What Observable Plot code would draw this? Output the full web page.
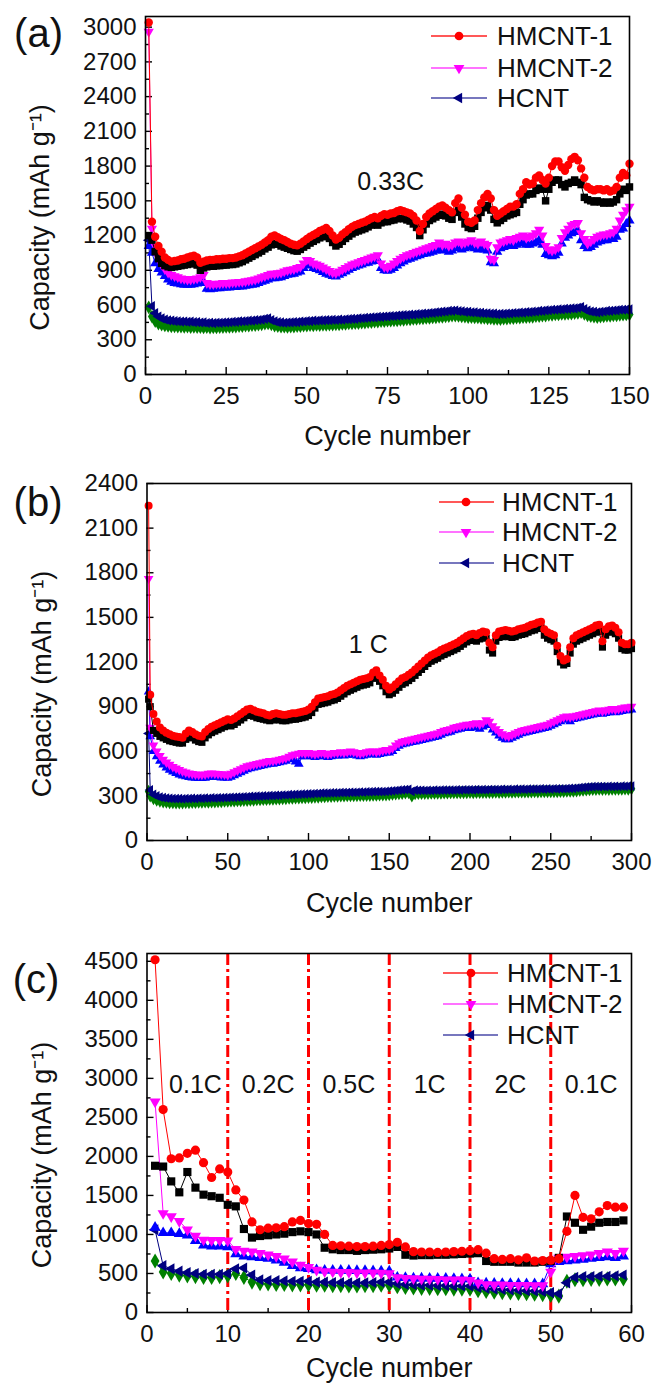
<!DOCTYPE html>
<html><head><meta charset="utf-8">
<script src="https://cdn.jsdelivr.net/npm/d3@7"></script>
<script src="https://cdn.jsdelivr.net/npm/@observablehq/plot@0.6"></script>
<style>
body{margin:0;background:#fff;}
#wrap{position:relative;width:654px;height:1385px;overflow:hidden;font-family:"Liberation Sans",Arial,sans-serif;}
#wrap svg{position:absolute;left:0;}
</style></head><body><div id="wrap"></div>
<script>
// ---------------- DATA ----------------
const seriesNames = ["HMCNT-1","HMCNT-2","HCNT"];
const yLabel = "Capacity (mAh g\u207B\u00B9)";
const xLabel = "Cycle number";

// Panel (a) 0.33C, cycles 1..150
const cyclesA = d3.range(1, 151);
const aRed = [3040,1320,1190,1110,1060,1010,990,975,980,985,
995,1000,1010,1020,1025,1010,965,975,985,990,
990,995,995,1000,1000,1005,1005,1010,1020,1030,
1045,1060,1075,1090,1105,1120,1140,1160,1190,1200,
1185,1170,1160,1145,1130,1120,1115,1130,1150,1170,
1190,1205,1220,1240,1250,1265,1240,1200,1165,1180,
1210,1230,1255,1275,1290,1300,1310,1320,1335,1350,
1360,1350,1370,1385,1380,1390,1395,1410,1420,1410,
1400,1390,1370,1330,1240,1300,1360,1390,1410,1430,
1450,1460,1440,1420,1400,1480,1520,1440,1380,1320,
1310,1330,1420,1480,1530,1560,1520,1420,1370,1390,
1410,1430,1450,1450,1470,1560,1600,1660,1640,1650,
1700,1720,1680,1650,1700,1800,1840,1840,1790,1760,
1810,1860,1880,1850,1780,1700,1620,1600,1590,1600,
1600,1590,1600,1580,1590,1620,1700,1740,1720,1820];
const aBlack = [1200,1160,1060,1000,960,940,930,925,930,935,
940,945,950,955,960,945,900,920,930,935,
935,940,940,945,945,950,950,955,965,975,
990,1005,1020,1035,1050,1065,1085,1100,1120,1130,
1125,1110,1100,1090,1080,1070,1065,1080,1100,1115,
1135,1150,1165,1180,1190,1200,1175,1140,1110,1125,
1150,1175,1195,1215,1230,1240,1250,1260,1275,1290,
1300,1290,1310,1320,1320,1330,1335,1345,1350,1345,
1335,1325,1300,1270,1200,1250,1300,1330,1345,1360,
1375,1385,1370,1350,1340,1400,1420,1360,1300,1270,
1260,1280,1350,1400,1440,1460,1420,1340,1310,1330,
1350,1370,1380,1390,1400,1470,1510,1550,1560,1560,
1590,1610,1600,1500,1600,1660,1680,1680,1640,1620,
1650,1660,1680,1660,1640,1530,1510,1500,1490,1500,
1490,1480,1490,1480,1490,1510,1560,1600,1590,1620];
const aMagenta = [2960,1260,1110,1010,950,910,880,860,850,840,
830,825,820,820,825,830,840,860,790,780,
780,785,785,790,790,790,795,795,800,800,
805,810,815,820,830,840,850,860,870,870,
875,880,890,900,905,910,920,930,960,990,
980,960,950,940,925,910,895,880,875,890,
905,920,935,950,960,970,980,990,1000,1010,
1020,1030,960,930,925,940,960,980,1000,1015,
1030,1040,1050,1060,1070,1080,1090,1100,1110,1120,
1140,1120,1130,1110,1120,1140,1150,1130,1140,1150,
1160,1140,1130,1150,1130,1120,1000,990,1100,1140,
1150,1160,1170,1160,1180,1190,1200,1180,1190,1200,
1220,1250,1200,1110,1080,1070,1080,1100,1180,1230,
1260,1290,1300,1310,1220,1170,1130,1150,1170,1190,
1200,1210,1210,1220,1230,1260,1330,1380,1420,1450];
const aBlue = [1110,1050,960,910,880,850,820,800,790,785,
780,775,775,775,780,785,790,800,740,735,
740,745,745,750,750,750,755,755,760,760,
765,770,775,780,790,800,810,820,830,830,
835,840,850,860,865,870,880,890,920,950,
940,920,910,900,885,870,860,850,845,860,
875,890,905,920,930,940,950,960,965,975,
980,990,920,900,895,905,920,940,960,975,
990,1000,1010,1020,1030,1040,1045,1050,1060,1070,
1080,1070,1080,1060,1070,1090,1100,1080,1090,1100,
1100,1090,1080,1090,1080,1070,970,960,1060,1090,
1100,1110,1115,1110,1120,1130,1140,1120,1120,1130,
1140,1160,1120,1040,1030,1020,1030,1050,1130,1180,
1200,1220,1230,1240,1160,1110,1090,1100,1120,1140,
1150,1160,1160,1170,1170,1190,1250,1260,1300,1330];
const aNavy = [1160,590,530,500,485,475,468,466,461,460,
457,458,454,456,452,453,449,450,445,447,
444,447,446,449,450,451,455,455,459,460,
461,465,465,469,471,474,480,484,470,460,
452,450,447,449,450,453,452,457,458,461,
461,465,464,468,467,470,469,472,471,474,
473,477,478,481,480,485,486,489,490,493,
494,497,497,501,502,505,505,509,510,513,
513,517,517,521,522,526,527,531,533,537,
539,543,544,549,550,553,547,546,541,541,
537,537,533,533,529,529,525,525,521,523,
523,527,527,531,531,535,535,539,539,543,
544,549,549,554,555,559,559,563,563,567,
567,571,571,576,582,565,551,544,541,537,
541,544,549,549,553,554,559,559,561,562];
const aGreen = [580,500,462,440,431,424,421,417,417,414,
415,412,413,410,411,409,410,407,409,406,
408,407,410,409,412,411,415,415,419,419,
423,423,427,427,431,433,439,441,433,423,
419,413,413,411,415,415,419,419,423,423,
426,425,428,427,430,429,432,431,434,433,
437,437,441,441,445,445,449,449,453,453,
457,457,461,461,465,465,469,469,473,473,
477,477,481,481,485,485,489,489,493,494,
499,499,503,504,509,509,507,502,501,497,
497,493,493,489,489,485,485,481,481,479,
483,483,487,487,491,491,495,495,499,499,
504,505,509,510,515,515,519,519,523,523,
527,527,531,532,539,523,511,504,501,497,
501,503,507,507,511,511,516,517,519,519];

// Panel (b) 1C, cycles 1, 2, 4, 6, ... 300
const cyclesB = [1, 2, ...d3.range(4, 301, 2)];
const bRed = [2250,980,
850,800,760,740,725,715,705,700,695,
690,720,740,730,715,705,700,730,750,765,
775,785,795,805,815,810,820,835,850,865,
880,885,875,865,860,855,845,840,850,855,
850,845,845,850,855,855,860,865,870,880,
900,930,955,960,965,970,980,985,995,1010,
1025,1040,1050,1060,1070,1080,1085,1090,1100,1130,
1145,1110,1080,1040,1015,1030,1050,1070,1090,1100,
1115,1130,1150,1170,1190,1210,1230,1245,1255,1265,
1280,1290,1300,1310,1320,1330,1345,1360,1375,1385,
1390,1380,1395,1405,1400,1330,1300,1380,1405,1410,
1415,1410,1405,1410,1420,1425,1430,1440,1450,1455,
1465,1470,1420,1400,1390,1380,1310,1240,1210,1220,
1300,1360,1380,1390,1400,1410,1420,1430,1445,1450,
1340,1420,1440,1445,1430,1400,1330,1320,1320,1330];
const bBlack = [950,900,
740,720,700,690,680,670,665,660,655,
655,680,700,690,675,665,660,690,710,725,
735,745,755,765,775,770,780,795,810,825,
840,845,835,825,820,815,810,805,810,815,
810,805,805,810,815,815,820,825,830,840,
860,890,915,920,925,930,940,945,955,970,
985,1000,1010,1020,1030,1040,1045,1050,1060,1090,
1100,1070,1040,1000,980,990,1010,1030,1050,1060,
1075,1090,1110,1130,1150,1170,1190,1205,1215,1225,
1240,1250,1260,1270,1280,1290,1305,1320,1335,1345,
1350,1340,1355,1365,1360,1280,1260,1340,1365,1370,
1375,1370,1365,1370,1380,1385,1390,1400,1410,1415,
1425,1430,1380,1360,1350,1340,1270,1200,1180,1190,
1260,1320,1340,1350,1360,1370,1380,1390,1400,1405,
1300,1380,1400,1405,1390,1360,1290,1280,1280,1290];
const bMagenta = [1760,760,
640,600,570,545,525,510,495,485,475,
465,458,452,448,445,443,442,445,450,452,
450,448,446,445,440,450,460,470,480,490,
500,505,510,515,520,525,530,535,535,540,
545,550,555,565,575,580,585,590,585,590,
585,580,585,590,585,580,585,590,590,595,
590,595,600,595,590,585,590,595,600,600,
595,600,605,610,610,620,640,655,665,670,
675,680,685,690,695,700,705,710,715,720,
730,740,745,750,760,765,770,775,780,780,
785,790,780,790,810,800,770,750,730,715,
705,700,710,720,730,740,745,750,755,760,
765,770,775,780,790,800,810,820,830,835,
830,835,840,845,850,855,860,865,870,875,
870,875,880,885,880,885,890,895,895,900];
const bBlue = [1000,700,
600,565,535,510,490,475,462,452,443,
435,430,425,422,420,418,418,420,425,428,
427,425,423,422,420,428,438,448,458,468,
478,484,490,495,500,505,510,515,515,520,
525,530,535,545,555,530,515,565,565,570,
565,560,565,570,565,560,565,570,570,575,
570,575,580,575,570,565,570,575,580,580,
575,580,585,590,590,600,620,635,645,650,
655,660,665,670,675,680,685,690,695,700,
710,720,725,730,740,745,750,755,760,755,
760,765,750,765,785,775,745,725,705,690,
680,680,690,700,710,720,725,730,735,740,
745,750,755,760,770,780,790,800,810,815,
800,815,820,825,830,835,840,845,850,855,
850,855,860,865,860,865,870,875,875,880];
const bNavy = [720,340,
310,300,292,288,285,283,282,281,281,
280,282,281,283,282,284,283,285,284,286,
285,287,286,288,288,290,290,292,292,294,
294,296,296,298,298,300,300,302,302,304,
304,306,306,308,308,310,310,312,312,314,
314,316,316,318,318,318,320,320,320,322,
322,322,324,323,324,326,325,327,327,328,
328,329,329,330,332,334,336,338,340,342,
344,330,338,337,337,336,337,336,338,337,
338,339,338,339,338,340,339,341,340,341,
340,342,341,342,341,343,342,343,342,344,
343,344,343,345,344,345,344,346,345,346,
345,347,346,347,346,348,347,348,348,349,
350,351,353,355,357,359,361,362,363,362,
363,362,364,363,364,363,365,364,366,365];
const bGreen = [330,300,
282,272,265,260,257,255,254,253,253,
253,255,254,256,256,258,257,259,258,260,
260,262,262,264,264,266,266,268,268,270,
270,272,272,274,274,276,276,278,278,280,
280,282,282,284,284,286,286,288,288,290,
290,292,292,294,294,296,296,298,298,300,
300,301,301,302,302,303,303,304,304,305,
305,306,306,307,309,311,313,315,317,320,
322,300,315,316,316,317,317,318,318,319,
319,320,320,321,321,321,322,322,322,323,
322,323,323,324,323,324,324,325,324,325,
325,326,325,326,326,327,326,327,327,328,
327,328,328,329,328,329,329,330,330,331,
331,332,334,336,338,340,342,344,344,345,
344,345,344,346,345,346,345,347,346,348];

// Panel (c) rate performance, cycles 1..59
const cyclesC = d3.range(1, 60);
const cRed = [4520,2600,1970,1980,2040,2080,1920,1730,1840,1800,
1570,1440,1160,1060,1080,1085,1100,1160,1180,1140,
1130,1000,860,855,850,845,845,850,860,870,
900,840,780,775,775,770,775,780,785,790,
805,760,690,680,690,675,700,660,665,670,
690,1040,1500,1220,1200,1290,1370,1350,1350];
const cBlack = [1880,1870,1680,1540,1800,1600,1510,1490,1470,1380,
1360,1070,960,980,990,1000,1010,1030,1040,1030,
1000,830,810,800,800,790,800,805,810,820,
840,740,730,735,735,740,740,745,750,755,
760,660,650,650,650,640,640,640,650,660,
700,1230,1150,1060,1100,1150,1160,1160,1180];
const cMagenta = [2700,1270,1230,1170,1060,980,930,925,925,920,
810,790,780,760,740,720,690,650,610,580,
545,525,520,515,515,510,510,510,505,500,
450,440,435,430,430,425,420,420,420,415,
380,360,355,355,350,350,350,345,345,520,
700,710,720,730,740,760,780,760,790];
const cBlue = [1090,1020,1020,1010,990,920,860,850,850,840,
750,720,710,700,690,670,640,600,570,560,
545,540,540,540,538,535,535,532,530,528,
450,445,440,440,438,435,435,432,430,428,
380,375,372,370,370,368,366,365,365,620,
650,660,670,680,690,700,710,700,720];
const cNavy = [1060,600,560,530,510,500,490,490,490,500,
560,570,480,420,410,410,405,400,400,400,
390,390,385,385,380,380,380,385,390,390,
370,360,355,350,350,345,345,340,340,340,
320,310,300,295,290,285,280,275,270,255,
240,380,450,460,460,465,465,470,480];
const cGreen = [660,520,500,480,470,460,450,450,460,470,
500,450,390,370,365,360,360,355,355,355,
350,350,345,345,340,340,345,345,350,350,
330,320,315,310,310,305,305,300,300,300,
280,270,260,255,250,245,240,235,230,220,
210,400,420,420,425,425,430,430,430];

// tick values
const aXTicks = [0,25,50,75,100,125,150], aXMinor = [12.5,37.5,62.5,87.5,112.5,137.5];
const aYTicks = [0,300,600,900,1200,1500,1800,2100,2400,2700,3000], aYMinor = [150,450,750,1050,1350,1650,1950,2250,2550,2850];
const bXTicks = [0,50,100,150,200,250,300], bXMinor = [25,75,125,175,225,275];
const bYTicks = [0,300,600,900,1200,1500,1800,2100,2400], bYMinor = [150,450,750,1050,1350,1650,1950,2250];
const cXTicks = [0,10,20,30,40,50,60], cXMinor = [5,15,25,35,45,55];
const cYTicks = [0,500,1000,1500,2000,2500,3000,3500,4000,4500], cYMinor = [250,750,1250,1750,2250,2750,3250,3750,4250];
const rateBounds = [10,20,30,40,50];
const rateLabels = ["0.1C","0.2C","0.5C","1C","2C","0.1C"];
const rateLabelX = [6,15,25,35,45,55];
const rateLabelY = 2910;
const noteA = {x: 76, y: 1660, t: "0.33C"};
const noteB = {x: 137, y: 1311, t: "1 C"};

// ---------------- STYLE ----------------
const SQ3 = Math.sqrt(3);
const triUp = {draw(c, size){const s=Math.sqrt(size/(3*SQ3)); c.moveTo(0,-2*s); c.lineTo(-SQ3*s,s); c.lineTo(SQ3*s,s); c.closePath();}};
const triDown = {draw(c, size){const s=Math.sqrt(size/(3*SQ3)); c.moveTo(0,2*s); c.lineTo(-SQ3*s,-s); c.lineTo(SQ3*s,-s); c.closePath();}};
const triLeft = {draw(c, size){const s=Math.sqrt(size/(3*SQ3)); c.moveTo(-2*s,0); c.lineTo(s,-SQ3*s); c.lineTo(s,SQ3*s); c.closePath();}};
const styles = {
  green:{color:"#008000", symbol:"diamond", rs:1.0},
  navy:{color:"#000080", symbol:triLeft, rs:0.9},
  blue:{color:"#0000ff", symbol:triUp, rs:0.9},
  magenta:{color:"#ff00ff", symbol:triDown, rs:0.9},
  black:{color:"#000000", symbol:"square", rs:1.0},
  red:{color:"#ff0000", symbol:"circle", rs:1.0}
};
const order = ["green","navy","blue","magenta","black","red"];
const FONT = "Liberation Sans, Arial, sans-serif";

function panel(cfg){
  const {W,H,mt,mb,ml,mr} = cfg;
  const pw = W-ml-mr, ph = H-mt-mb;
  const k = {stroke:"#000", strokeWidth:1.4};
  const marks = [
    Plot.ruleX(cfg.xMinor,{...k, insetTop:ph-4}),
    Plot.ruleX(cfg.xTicks,{...k, insetTop:ph-7}),
    Plot.ruleY(cfg.yMinor,{...k, insetRight:pw-4}),
    Plot.ruleY(cfg.yTicks,{...k, insetRight:pw-7})
  ];
  if (cfg.vlines) marks.push(Plot.ruleX(cfg.vlines,{stroke:"#ff0000", strokeWidth:3, strokeDasharray:"12,4,3,4"}));
  for (const key of order){
    const st = styles[key];
    const pts = cfg.data[key].map((v,i)=>({c:cfg.cycles[i], v}));
    marks.push(Plot.line(pts,{x:"c", y:"v", stroke:st.color, strokeWidth:1}));
    marks.push(Plot.dot(pts,{x:"c", y:"v", symbol:st.symbol, fill:st.color, stroke:"none", r:cfg.r*st.rs}));
  }
  marks.push(Plot.frame({stroke:"#000", strokeWidth:1.6}));
  marks.push(Plot.axisX(cfg.xTicks,{tickSize:0, tickPadding:12, fontSize:24, label:null, tickFormat:d=>String(d)}));
  marks.push(Plot.axisY(cfg.yTicks,{tickSize:0, tickPadding:9, fontSize:24, label:null, tickFormat:d=>String(d)}));
  marks.push(Plot.text([xLabel],{frameAnchor:"bottom", dy:cfg.xLabDy, text:d=>d, fontSize:27, fill:"#111", textAnchor:"middle", lineAnchor:"middle"}));
  marks.push(Plot.text([yLabel],{frameAnchor:"left", dx:-105, dy:22, rotate:-90, text:d=>d, fontSize:27, fill:"#111", textAnchor:"middle", lineAnchor:"middle"}));
  marks.push(Plot.text([cfg.tag],{frameAnchor:"top-left", dx:cfg.tagDx, dy:cfg.tagDy, text:d=>d, fontSize:40, fill:"#111", textAnchor:"middle", lineAnchor:"middle"}));
  if (cfg.notes) marks.push(Plot.text(cfg.notes,{x:"x", y:"y", text:"t", fontSize:25, fill:"#111"}));
  const svg = Plot.plot({
    width:W, height:H, marginTop:mt, marginBottom:mb, marginLeft:ml, marginRight:mr,
    x:{domain:cfg.xDomain}, y:{domain:cfg.yDomain},
    style:{fontFamily:FONT, fontSize:"24px", background:"transparent", color:"#111", overflow:"visible"},
    marks
  });
  svg.style.top = cfg.top + "px";
  return svg;
}

const wrap = document.getElementById("wrap");
wrap.appendChild(panel({
  top:0, W:654, H:460, mt:16, mb:86, ml:145, mr:25, r:4.2, xLabDy:62,
  xDomain:[0,150], yDomain:[0,3092], xTicks:aXTicks, xMinor:aXMinor, yTicks:aYTicks, yMinor:aYMinor,
  cycles:cyclesA, data:{red:aRed, black:aBlack, magenta:aMagenta, blue:aBlue, navy:aNavy, green:aGreen},
  tag:"(a)", tagDx:-107, tagDy:18, notes:[noteA]
}));
wrap.appendChild(panel({
  top:460, W:654, H:460, mt:23, mb:80, ml:146.5, mr:23, r:4.0, xLabDy:63,
  xDomain:[0,300], yDomain:[0,2400], xTicks:bXTicks, xMinor:bXMinor, yTicks:bYTicks, yMinor:bYMinor,
  cycles:cyclesB, data:{red:bRed, black:bBlack, magenta:bMagenta, blue:bBlue, navy:bNavy, green:bGreen},
  tag:"(b)", tagDx:-109, tagDy:20, notes:[noteB]
}));
wrap.appendChild(panel({
  top:920, W:654, H:465, mt:33, mb:73, ml:146.5, mr:23, r:4.6, xLabDy:56,
  xDomain:[0,60], yDomain:[0,4600], xTicks:cXTicks, xMinor:cXMinor, yTicks:cYTicks, yMinor:cYMinor,
  cycles:cyclesC, data:{red:cRed, black:cBlack, magenta:cMagenta, blue:cBlue, navy:cNavy, green:cGreen},
  vlines:rateBounds, tag:"(c)", tagDx:-111, tagDy:27,
  notes:rateLabels.map((t,i)=>({x:rateLabelX[i], y:rateLabelY, t}))
}));

// ---------------- LEGENDS (overlay) ----------------
const legendLine = ["#ff2020","#ff44ff","#4a4aa8"];
const legendFill = ["#ff0000","#ff00ff","#000080"];
const legendSym = [d3.symbolCircle, triDown, triLeft];
const legendLayout = [
  {rows:[36,68,98], x1:431, x2:487, xm:459, xt:497},
  {rows:[502,532,563], x1:439, x2:494, xm:466, xt:502},
  {rows:[973,1004,1035], x1:443, x2:498, xm:471, xt:507}
];
const ov = d3.select(wrap).append("svg").attr("width",654).attr("height",1385).style("top","0px").style("pointer-events","none");
for (const L of legendLayout){
  seriesNames.forEach((name,i)=>{
    const y = L.rows[i];
    ov.append("line").attr("x1",L.x1).attr("x2",L.x2).attr("y1",y).attr("y2",y).attr("stroke",legendLine[i]).attr("stroke-width",1.6);
    ov.append("path").attr("d", d3.symbol().type(legendSym[i]).size(i===0?60:50)()).attr("transform",`translate(${L.xm},${y})`).attr("fill",legendFill[i]);
    ov.append("text").attr("x",L.xt).attr("y",y).attr("dominant-baseline","central").attr("font-family",FONT).attr("font-size",26).attr("fill","#111").text(name);
  });
}
</script>
</body></html>
